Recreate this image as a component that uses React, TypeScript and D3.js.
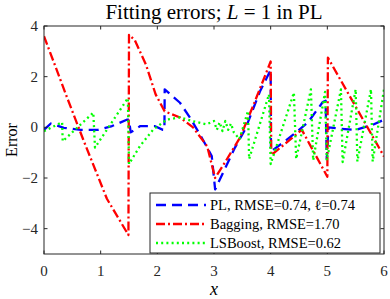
import * as d3 from "d3";

// PL fit error
const plX = [0, 0.12, 0.35, 0.65, 0.95, 1.2, 1.46, 1.5, 1.53, 1.7, 1.95, 2.1, 2.125, 2.13, 2.4, 2.57, 2.75, 2.96, 3.02, 3.37, 3.55, 3.81, 4.0, 4.005, 4.22, 4.45, 4.66, 4.92, 4.97, 4.99, 5.02, 5.2, 5.5, 5.8, 6.0];
const plY = [-0.1, 0.15, -0.02, -0.1, -0.1, 0.05, 0.3, 0.3, -0.2, 0.05, 0.05, -0.1, -0.1, 1.5, 0.97, 0.4, -0.27, -1.13, -2.45, -0.8, -0.08, 1.41, 2.27, -0.95, -0.6, -0.2, 0.2, 1.0, 1.05, -1.25, 0.0, -0.05, -0.1, 0.1, 0.3];

// Bagging fit error
const bagX = [0, 0.42, 0.69, 1.11, 1.49, 1.5, 1.6, 1.8, 1.97, 2.13, 2.4, 2.63, 2.88, 3.02, 3.23, 3.46, 3.7, 4.0, 4.01, 4.55, 5.0, 5.01, 6.0];
const bagY = [3.6, 1.1, -0.47, -2.82, -4.25, 3.65, 3.45, 2.47, 1.3, 0.63, 0.39, 0.0, -0.75, -2.0, -1.25, -0.4, 0.9, 2.6, -1.1, -0.1, -1.95, 2.75, -1.15];

// LSBoost fit error
const lsbX = [0, 0.32, 0.33, 0.87, 0.9, 1.48, 1.5, 1.69, 1.93, 2.17, 2.4, 2.63, 2.87, 3.0, 3.05, 3.1, 3.15, 3.2, 3.25, 3.3, 3.35, 3.45, 3.6, 3.62, 3.97, 4.0, 4.41, 4.45, 4.71, 4.75, 4.96, 4.99, 5.24, 5.27, 5.5, 5.53, 5.77, 5.8, 6.0];
const lsbY = [-0.15, 0.2, -0.55, 0.58, -0.8, 1.15, -1.45, -0.75, -0.08, 0.31, 0.39, 0.24, 0.12, 0.25, -0.1, 0.2, -0.15, 0.25, -0.1, 0.15, -0.2, -0.47, 0.65, -1.25, 1.3, -1.45, 1.37, -1.25, 1.5, -1.3, 1.4, -1.3, 1.5, -1.37, 1.5, -1.35, 1.5, -1.35, 1.5];

const xTicks = [0, 1, 2, 3, 4, 5, 6];
const yTicks = [-4, -2, 0, 2, 4];

const legendLabels = ["PL, RMSE=0.74, \u2113=0.74", "Bagging, RMSE=1.70", "LSBoost, RMSE=0.62"];

const W = 390;
const H = 299;
const margin = { top: 26, right: 6, bottom: 45, left: 44 };
const font = "'Liberation Serif', 'DejaVu Serif', serif";
const axisColor = "#262626";

export default function App() {
  const x = d3.scaleLinear().domain([0, 6]).range([margin.left, W - margin.right]);
  const y = d3.scaleLinear().domain([-5, 4]).range([H - margin.bottom, margin.top]);

  const line = d3
    .line<[number, number]>()
    .x((d) => x(d[0]))
    .y((d) => y(d[1]));

  const zip = (xs: number[], ys: number[]) => xs.map((v, i) => [v, ys[i]] as [number, number]);

  const series = [
    { pts: zip(plX, plY), color: "#0000ff", dash: "10,6" },
    { pts: zip(bagX, bagY), color: "#ff0000", dash: "9,3,2,3" },
    { pts: zip(lsbX, lsbY), color: "#00ff00", dash: "2,3.2" },
  ];

  const x0 = x.range()[0];
  const x1 = x.range()[1];
  const y0 = y.range()[0];
  const y1 = y.range()[1];

  const lg = { x: 150, y: 193, w: 230, h: 60 };

  return (
    <svg
      width={W}
      height={H}
      style={{ position: "absolute", left: 0, top: 0, background: "white" }}
      fontFamily={font}
    >
      <rect width={W} height={H} fill="white" />

      <defs>
        <clipPath id="plot">
          <rect x={x0} y={y1} width={x1 - x0} height={y0 - y1} />
        </clipPath>
      </defs>

      {/* data lines */}
      <g clipPath="url(#plot)">
        {series.map((s, i) => (
          <path
            key={i}
            d={line(s.pts) ?? ""}
            fill="none"
            stroke={s.color}
            strokeWidth={2.3}
            strokeDasharray={s.dash}
            strokeLinejoin="round"
          />
        ))}
      </g>

      {/* axes box */}
      <rect x={x0} y={y1} width={x1 - x0} height={y0 - y1} fill="none" stroke={axisColor} strokeWidth={1} />

      {/* x ticks (bottom and top, inward) */}
      {xTicks.map((t) => (
        <g key={"x" + t}>
          <line x1={x(t)} x2={x(t)} y1={y0} y2={y0 - 3.5} stroke={axisColor} />
          <line x1={x(t)} x2={x(t)} y1={y1} y2={y1 + 3.5} stroke={axisColor} />
          <text x={x(t)} y={y0 + 22} textAnchor="middle" fontSize={15} fill={axisColor}>
            {t}
          </text>
        </g>
      ))}

      {/* y ticks (left and right, inward) */}
      {yTicks.map((t) => (
        <g key={"y" + t}>
          <line x1={x0} x2={x0 + 3.5} y1={y(t)} y2={y(t)} stroke={axisColor} />
          <line x1={x1} x2={x1 - 3.5} y1={y(t)} y2={y(t)} stroke={axisColor} />
          <text x={x0 - 6} y={y(t) + 5} textAnchor="end" fontSize={15} fill={axisColor}>
            {t < 0 ? "\u2212" + Math.abs(t) : t}
          </text>
        </g>
      ))}

      {/* title */}
      <text x={(x0 + x1) / 2} y={19} textAnchor="middle" fontSize={21} fill="#000">
        Fitting errors;{" "}
        <tspan fontStyle="italic">L</tspan> = 1 in PL
      </text>

      {/* axis labels */}
      <text x={(x0 + x1) / 2} y={H - 4} textAnchor="middle" fontSize={18} fontStyle="italic" fill="#000">
        x
      </text>
      <text
        transform={`translate(17,${(y0 + y1) / 2}) rotate(-90)`}
        textAnchor="middle"
        fontSize={16}
        fill="#000"
      >
        Error
      </text>

      {/* legend */}
      <rect x={lg.x} y={lg.y} width={lg.w} height={lg.h} fill="white" stroke="#262626" strokeWidth={1} />
      {series.map((s, i) => {
        const ly = lg.y + 12 + i * 19;
        return (
          <g key={"lg" + i}>
            <line
              x1={lg.x + 6}
              x2={lg.x + 56}
              y1={ly}
              y2={ly}
              stroke={s.color}
              strokeWidth={2.3}
              strokeDasharray={s.dash}
            />
            <text x={lg.x + 60} y={ly + 5} fontSize={14.5} fill="#000">
              {legendLabels[i]}
            </text>
          </g>
        );
      })}
    </svg>
  );
}
